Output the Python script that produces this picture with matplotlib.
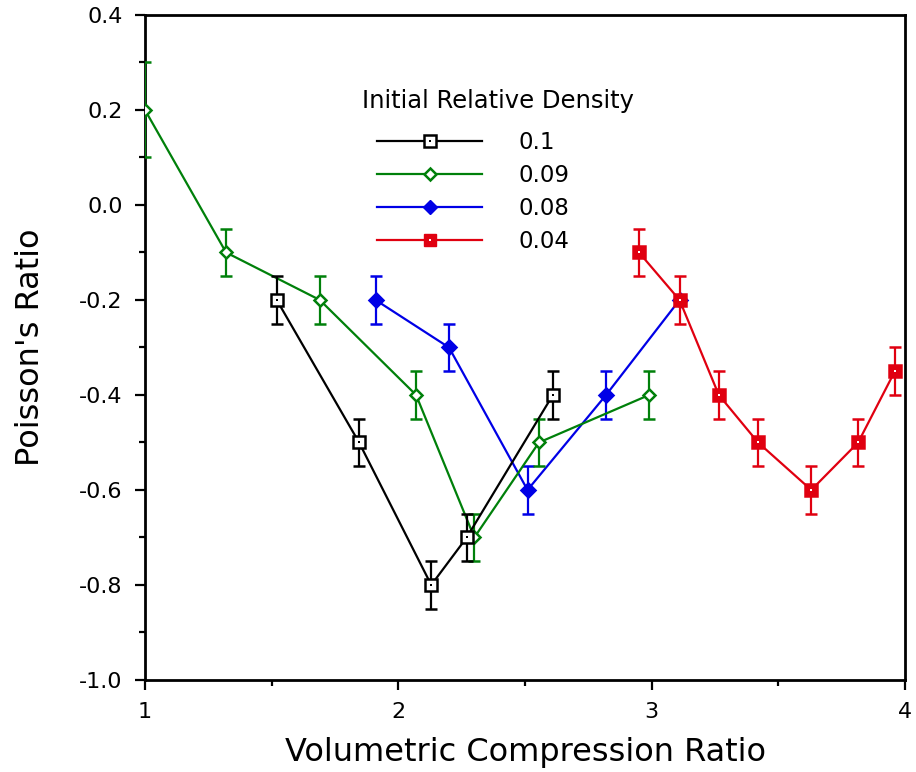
import matplotlib
matplotlib.use("Agg")
import matplotlib.pyplot as plt
from matplotlib.lines import Line2D
from matplotlib.legend_handler import HandlerTuple
from matplotlib.ticker import MultipleLocator

# density 0.1 (black, open square)
x_01 = [1.52, 1.845, 2.13, 2.27, 2.61]
y_01 = [-0.2, -0.5, -0.8, -0.7, -0.4]
e_01 = [0.05, 0.05, 0.05, 0.05, 0.05]

# density 0.09 (green, open diamond)
x_009 = [1.0, 1.32, 1.69, 2.07, 2.30, 2.555, 2.99]
y_009 = [0.2, -0.1, -0.2, -0.4, -0.7, -0.5, -0.4]
e_009 = [0.1, 0.05, 0.05, 0.05, 0.05, 0.05, 0.05]

# density 0.08 (blue, filled diamond)
x_008 = [1.91, 2.20, 2.51, 2.82, 3.11]
y_008 = [-0.2, -0.3, -0.6, -0.4, -0.2]
e_008 = [0.05, 0.05, 0.05, 0.05, 0.0]

# density 0.04 (red, filled square)
x_004 = [2.95, 3.11, 3.265, 3.42, 3.63, 3.815, 3.96]
y_004 = [-0.1, -0.2, -0.4, -0.5, -0.6, -0.5, -0.35]
e_004 = [0.05, 0.05, 0.05, 0.05, 0.05, 0.05, 0.05]

labels = ["0.1", "0.09", "0.08", "0.04"]

plt.rcParams["font.family"] = ["DejaVu Sans"]

fig = plt.figure(figsize=(9.16, 7.72), dpi=100)
ax = fig.add_axes([0.1583, 0.1192, 0.8297, 0.8614])

black = "#000000"
green = "#00800a"
blue = "#0000e6"
red = "#e00010"

lw = 1.6
cap = 4.2


def series(x, y, e, color, marker, face, ms, dot=None, z=2):
    ax.errorbar(x, y, yerr=e, color=color, lw=lw, elinewidth=lw,
                capsize=cap, capthick=lw, marker=marker, ms=ms,
                mfc=face, mec=color, mew=1.8, zorder=z)
    if dot is not None:
        ax.plot(x, y, ls="none", marker="s", ms=2.0, mfc=dot, mew=0, zorder=z + 0.1)


series(x_008, y_008, e_008, blue, "D", blue, 7, z=2)
series(x_009, y_009, e_009, green, "D", "white", 6.5, z=3)
series(x_01, y_01, e_01, black, "s", "white", 8, dot=black, z=4)
series(x_004, y_004, e_004, red, "s", red, 9, dot="white", z=5)

ax.set_xlim(1, 4)
ax.set_ylim(-1.0, 0.4)
ax.xaxis.set_major_locator(MultipleLocator(1))
ax.xaxis.set_minor_locator(MultipleLocator(0.5))
ax.yaxis.set_major_locator(MultipleLocator(0.2))
ax.yaxis.set_minor_locator(MultipleLocator(0.1))
ax.xaxis.set_major_formatter(plt.FuncFormatter(lambda v, p: f"{v:.0f}"))
ax.yaxis.set_major_formatter(plt.FuncFormatter(lambda v, p: f"{v:.1f}"))

ax.tick_params(which="major", direction="out", length=7, width=1.6,
               labelsize=16, pad=9)
ax.tick_params(which="minor", direction="out", length=4.5, width=1.6)
for s in ax.spines.values():
    s.set_linewidth(2)

ax.set_xlabel("Volumetric Compression Ratio", fontsize=23, labelpad=11)
ax.set_ylabel("Poisson's Ratio", fontsize=23, labelpad=24)


def dot(c):
    return Line2D([], [], ls="none", marker="s", ms=2.0, mfc=c, mew=0)


handles = [
    (Line2D([], [], color=black, lw=lw, marker="s", ms=8, mfc="white", mec=black, mew=1.8), dot(black)),
    Line2D([], [], color=green, lw=lw, marker="D", ms=6.5, mfc="white", mec=green, mew=1.8),
    Line2D([], [], color=blue, lw=lw, marker="D", ms=7, mfc=blue, mec=blue),
    (Line2D([], [], color=red, lw=lw, marker="s", ms=9, mfc=red, mec=red), dot("white")),
]
ax.text(0.4645, 0.8707, "Initial Relative Density", transform=ax.transAxes,
        ha="center", va="center", fontsize=17.5)
ax.legend(handles, labels,
          handler_map={tuple: HandlerTuple(ndivide=1)},
          loc="upper left", bbox_to_anchor=(0.293, 0.84), frameon=False,
          fontsize=16.5, handlelength=4.6, borderaxespad=0,
          handletextpad=1.6, labelspacing=0.45)

fig.savefig("out.png", dpi=100)
